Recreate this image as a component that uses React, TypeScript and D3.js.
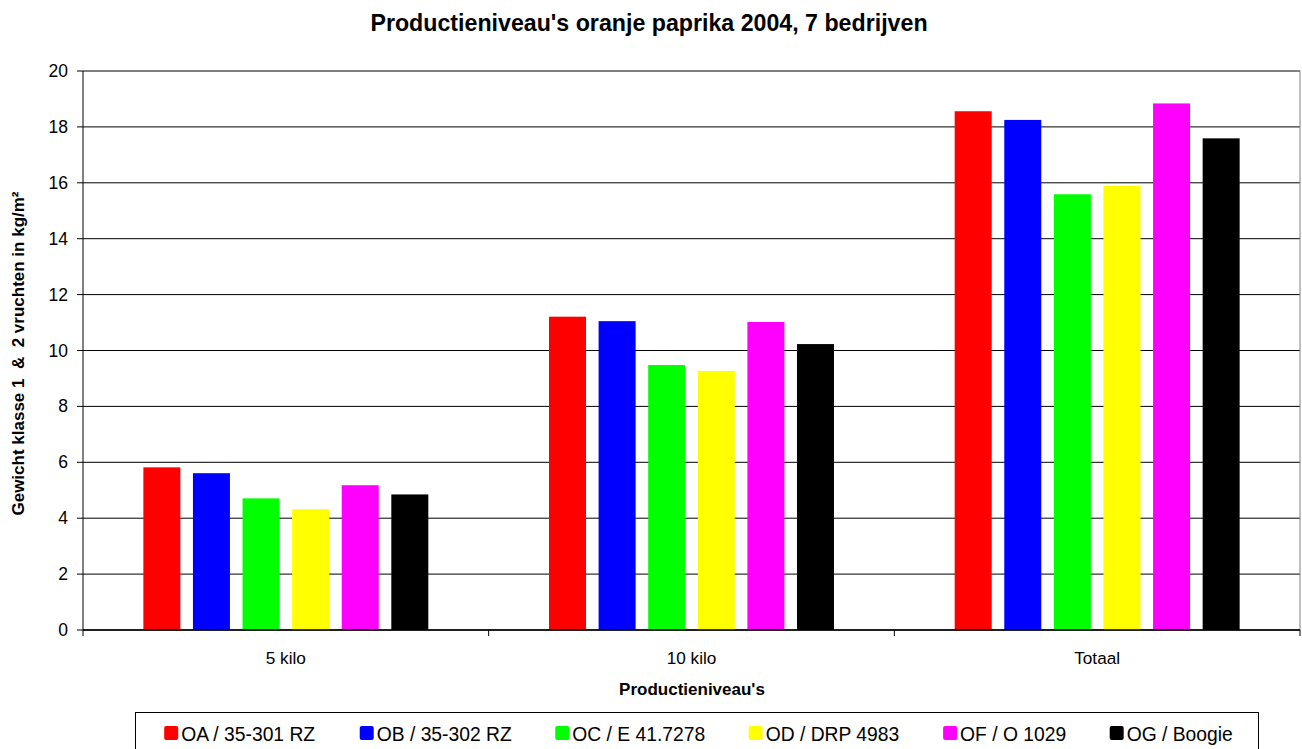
import React from "react";
import * as d3 from "d3";

const categories = ["5 kilo", "10 kilo", "Totaal"];
const seriesNames = [
  "OA / 35-301 RZ",
  "OB / 35-302 RZ",
  "OC / E 41.7278",
  "OD / DRP 4983",
  "OF / O 1029",
  "OG / Boogie",
];
const seriesColors = ["#ff0000", "#0000ff", "#00ff00", "#ffff00", "#ff00ff", "#000000"];
const valuesOA = [5.82, 11.21, 18.56];
const valuesOB = [5.61, 11.05, 18.25];
const valuesOC = [4.71, 9.48, 15.59];
const valuesOD = [4.32, 9.27, 15.89];
const valuesOF = [5.18, 11.02, 18.84];
const valuesOG = [4.85, 10.23, 17.59];
const seriesValues = [valuesOA, valuesOB, valuesOC, valuesOD, valuesOF, valuesOG];
const yTicks = [0, 2, 4, 6, 8, 10, 12, 14, 16, 18, 20];

const FONT = "'Liberation Sans', Arial, sans-serif";
const LEGEND_FONT_SIZE = 19.3;

function measure(text: string, size: number): number {
  if (typeof document === "undefined") return text.length * size * 0.55;
  const c = document.createElement("canvas");
  const ctx = c.getContext("2d");
  if (!ctx) return text.length * size * 0.55;
  ctx.font = `${size}px 'Liberation Sans', Arial, sans-serif`;
  return ctx.measureText(text).width;
}

export default function App() {
  const W = 1302;
  const H = 749;
  const left = 83;
  const right = 1300;
  const top = 71;
  const bottom = 630;

  const x0 = d3.scaleBand<string>().domain(categories).range([left, right]).padding(0);
  const x1 = d3
    .scaleBand<string>()
    .domain(seriesNames)
    .range([0, x0.bandwidth()])
    .paddingInner(0.254)
    .paddingOuter(1.217);
  const y = d3.scaleLinear().domain([0, 20]).range([bottom, top]);

  const boundaries = [...categories.map((c) => x0(c) as number), right];

  // legend layout: swatch, small gap, text, bigger gap
  const legendBoxX = 135.5;
  const legendBoxW = 1123;
  const sw = 14;
  const swGap = 3;
  const itemGap = 43.5;
  const widths = seriesNames.map((s) => measure(s, LEGEND_FONT_SIZE));
  const totalW =
    widths.reduce((a, b) => a + b, 0) + seriesNames.length * (sw + swGap) + (seriesNames.length - 1) * itemGap;
  let cursor = legendBoxX + legendBoxW / 2 - totalW / 2 + 1.5;
  const legendPos = widths.map((w) => {
    const p = cursor;
    cursor += sw + swGap + w + itemGap;
    return p;
  });

  return (
    <svg
      width={W}
      height={H}
      style={{ position: "absolute", left: 0, top: 0, background: "#fff" }}
      fontFamily={FONT}
    >
      <rect x={0} y={0} width={W} height={H} fill="#fff" />
      <text x={649} y={31} textAnchor="middle" fontSize={23.2} fontWeight="bold" fill="#000">
        Productieniveau's oranje paprika 2004, 7 bedrijven
      </text>

      {/* gridlines */}
      {yTicks.map((t) => (
        <line key={"g" + t} x1={left} x2={right} y1={y(t)} y2={y(t)} stroke="#000" strokeWidth={1} />
      ))}
      {/* right plot border */}
      <line x1={right} x2={right} y1={top} y2={bottom} stroke="#808080" strokeWidth={1} />

      {/* bars */}
      {categories.map((c, ci) =>
        seriesNames.map((s, si) => {
          const v = seriesValues[si][ci];
          return (
            <rect
              key={c + s}
              x={(x0(c) as number) + (x1(s) as number)}
              y={y(v)}
              width={x1.bandwidth()}
              height={y(0) - y(v)}
              fill={seriesColors[si]}
            />
          );
        })
      )}

      {/* y axis */}
      <line x1={left} x2={left} y1={top} y2={bottom} stroke="#000" strokeWidth={1} />
      {yTicks.map((t) => (
        <g key={"t" + t}>
          <line x1={left - 6} x2={left} y1={y(t)} y2={y(t)} stroke="#000" />
          <text x={68} y={y(t) + 6} textAnchor="end" fontSize={17.5} fill="#000">
            {t}
          </text>
        </g>
      ))}

      {/* x axis */}
      <line x1={left} x2={right} y1={bottom} y2={bottom} stroke="#000" strokeWidth={1.5} />
      {boundaries.map((b, i) => (
        <line key={"xb" + i} x1={b} x2={b} y1={bottom} y2={bottom + 6} stroke="#000" />
      ))}
      {categories.map((c) => (
        <text
          key={"xl" + c}
          x={(x0(c) as number) + x0.bandwidth() / 2}
          y={664}
          textAnchor="middle"
          fontSize={17.2}
          fill="#000"
        >
          {c}
        </text>
      ))}

      <text x={692} y={695} textAnchor="middle" fontSize={17} fontWeight="bold" fill="#000">
        Productieniveau's
      </text>
      <text
        transform={`translate(24, ${(top + bottom) / 2 + 3}) rotate(-90)`}
        textAnchor="middle"
        fontSize={17}
        fontWeight="bold"
        fill="#000"
        style={{ whiteSpace: "pre" }}
      >
        {"Gewicht klasse 1  &  2 vruchten in kg/m²"}
      </text>

      {/* legend */}
      <rect x={legendBoxX} y={712.5} width={legendBoxW} height={45} fill="#fff" stroke="#000" strokeWidth={1} />
      {seriesNames.map((s, i) => {
        const lx = legendPos[i];
        return (
          <g key={"lg" + s}>
            <rect x={lx} y={726} width={sw} height={14} rx={2} fill={seriesColors[i]} />
            <text x={lx + sw + swGap} y={741} fontSize={LEGEND_FONT_SIZE} fill="#000">
              {s}
            </text>
          </g>
        );
      })}
    </svg>
  );
}
